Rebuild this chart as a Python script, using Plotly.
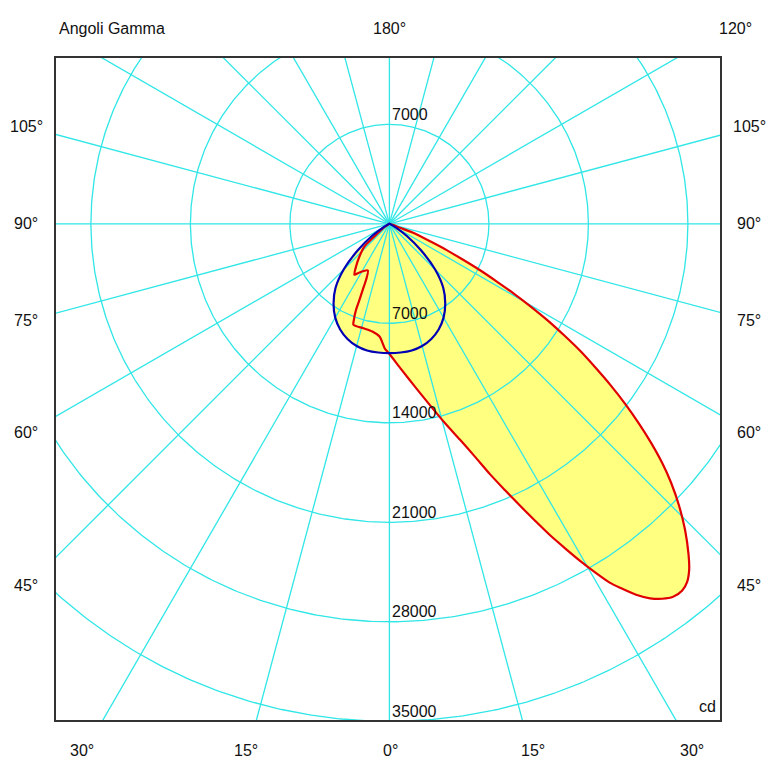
import numpy as np
import plotly.graph_objects as go

# ---------------- data ----------------
# Red curve (C-plane pair), gamma in degrees (negative = left side), intensity in cd
red_gamma = [-90, -62, -57, -54, -49.3, -47.8, -42.5, -38, -34.5, -31.6, -24.8, -22.6, -22, -21.5,
             -21.2, -20.3, -19.6, -14, -9, -5, -2, -0.4,
             4.25, 8.96, 12.64, 15.6, 18.12, 20.19, 21.9, 23.47, 24.87, 26.13, 27.29, 28.43,
             29.5, 30.55, 31.58, 32.37, 33.62, 34.84, 36.03, 37.26, 38.57, 39.75, 40.9, 42.11,
             44.02, 45.77, 47.41, 48.77, 50.07, 51.31, 52.63, 53.84, 55.04, 56.34, 57.45, 58.57,
             59.64, 60.7, 61.7, 62.86, 63.97, 65.3, 66.7, 69.2, 69.5, 72, 80, 90]
red_cd = [0, 0, 300, 720, 1540, 2380, 3120, 3810, 4350, 4020, 3620, 4270, 5010, 5750,
          6490, 7200, 7540, 7570, 7670, 7960, 8800, 9070,
          10160, 11610, 13090, 14570, 15990, 17470, 19000, 20440, 21870, 23270, 24660, 25960,
          27240, 28470, 29650, 30320, 31340, 32100, 32620, 32970, 33020, 32760, 32210, 31390,
          29930, 28440, 26920, 25510, 24010, 22510, 20870, 19320, 17740, 16120, 14580, 13090,
          11550, 10060, 8610, 7170, 5770, 4470, 3120, 1780, 800, 250, 0, 0]

# Blue curve (symmetric plane)
blue_gamma_half = [0, 5, 10, 15, 20, 25, 30, 35, 40, 45, 50, 55, 60, 65, 70, 90]
blue_cd_half = [9100, 9090, 9050, 8900, 8620, 8200, 7620, 6850, 5900, 4550, 2900, 1500, 500, 100, 0, 0]

ring_values = [7000, 14000, 21000, 28000, 35000]
ring_labels = ["7000", "14000", "21000", "28000", "35000"]
spoke_step = 15

left_labels = ["105°", "90°", "75°", "60°", "45°"]
left_label_py = [127, 223, 320, 432, 585]
bottom_labels = ["30°", "15°", "0°", "15°", "30°"]
bottom_label_px = [82, 246, 390, 533, 692]

# ---------------- geometry helpers ----------------
def to_xy(g, i):
    g = np.radians(np.asarray(g, dtype=float))
    i = np.asarray(i, dtype=float)
    return i * np.sin(g), -i * np.cos(g)

blue_gamma = [-g for g in blue_gamma_half[::-1]] + blue_gamma_half[1:]
blue_cd = blue_cd_half[::-1] + blue_cd_half[1:]

rx, ry = to_xy(red_gamma, red_cd)
bx, by = to_xy(blue_gamma, blue_cd)

# layout pixel frame
W, H = 779, 780
L, R, T, B = 56, 720, 58, 720
cx, cy = 389.4, 223.8
s = 99.5 / 7000.0
xr = [-(cx - L) / s, (R - cx) / s]
yr = [-(B - cy) / s, (cy - T) / s]

YELLOW = "#FFFF80"
CYAN = "#30E6E6"
RED = "#E00000"
BLUE = "#0000B4"
SM = 0.7

fig = go.Figure()

# fills
fig.add_trace(go.Scatter(x=rx, y=ry, mode="lines", fill="toself", fillcolor=YELLOW,
                         line=dict(width=0, color=YELLOW, shape="spline", smoothing=SM),
                         hoverinfo="skip"))
fig.add_trace(go.Scatter(x=bx, y=by, mode="lines", fill="toself", fillcolor=YELLOW,
                         line=dict(width=0, color=YELLOW, shape="spline", smoothing=SM),
                         hoverinfo="skip"))

# grid circles
t = np.linspace(0, 2 * np.pi, 721)
gx, gy = [], []
for r in ring_values:
    gx += list(r * np.cos(t)) + [None]
    gy += list(r * np.sin(t)) + [None]
# spokes
big = 80000
for a in range(0, 360, spoke_step):
    ar = np.radians(a)
    gx += [0, big * np.sin(ar), None]
    gy += [0, -big * np.cos(ar), None]
fig.add_trace(go.Scatter(x=gx, y=gy, mode="lines", line=dict(color=CYAN, width=1.3),
                         hoverinfo="skip"))

# curve outlines
fig.add_trace(go.Scatter(x=rx, y=ry, mode="lines",
                         line=dict(color=RED, width=2.2, shape="spline", smoothing=SM),
                         hoverinfo="skip"))
fig.add_trace(go.Scatter(x=bx, y=by, mode="lines",
                         line=dict(color=BLUE, width=2.2, shape="spline", smoothing=SM),
                         hoverinfo="skip"))

FONT = dict(family="Arial, Liberation Sans, sans-serif", size=16, color="#111111")

def px2paper(px, py):
    return (px - L) / (R - L), (B - py) / (B - T)

def data2paper_y(v):
    return (v - yr[0]) / (yr[1] - yr[0])

x0_paper = (0 - xr[0]) / (xr[1] - xr[0])

ann = []
# ring labels (placed just above where each ring crosses the 0° / 180° spoke)
ring_label_y = [ring_values[0]] + [-v for v in ring_values]
ring_label_t = [ring_labels[0]] + ring_labels
for v, lab in zip(ring_label_y, ring_label_t):
    ann.append(dict(x=x0_paper, y=data2paper_y(v), xref="paper", yref="paper", text=lab,
                    xanchor="left", yanchor="middle", xshift=1, yshift=10,
                    showarrow=False, font=FONT))

def paper_text(text, px, py, anchor="center"):
    x, y = px2paper(px, py)
    ann.append(dict(x=x, y=y, xref="paper", yref="paper", text=text, xanchor=anchor,
                    yanchor="middle", showarrow=False, font=FONT))

paper_text("Angoli Gamma", 57, 28, "left")
paper_text("180°", 389, 28)
paper_text("120°", 735, 28)
for lab, py in zip(left_labels, left_label_py):
    paper_text(lab, 26, py)
    paper_text(lab, 749, py)
for lab, px in zip(bottom_labels, bottom_label_px):
    paper_text(lab, px, 750)
paper_text("cd", 707, 706)

axis_common = dict(showgrid=False, zeroline=False, showticklabels=False, ticks="",
                   showline=True, mirror=True, linecolor="#333333", linewidth=1.5,
                   fixedrange=True)
fig.update_layout(
    width=W, height=H,
    margin=dict(l=L, r=W - R, t=T, b=H - B, pad=0),
    paper_bgcolor="white", plot_bgcolor="white",
    showlegend=False,
    xaxis=dict(range=xr, **axis_common),
    yaxis=dict(range=yr, **axis_common),
    annotations=ann,
)

fig.write_html("out.html")
